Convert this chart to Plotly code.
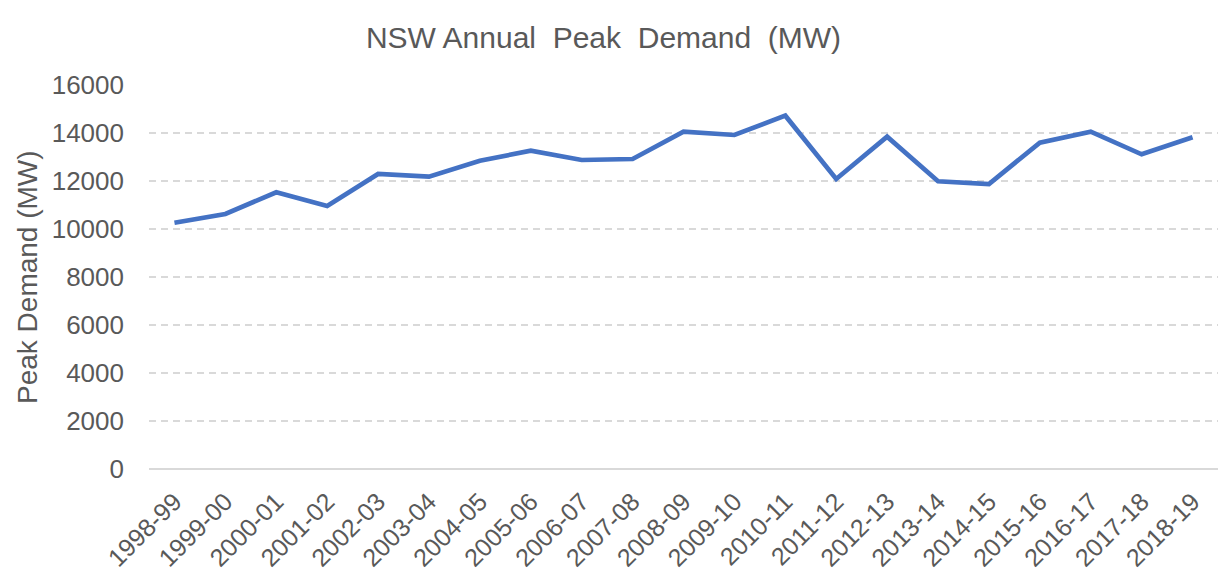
import plotly.graph_objects as go

years = ["1998-99", "1999-00", "2000-01", "2001-02", "2002-03", "2003-04", "2004-05",
         "2005-06", "2006-07", "2007-08", "2008-09", "2009-10", "2010-11", "2011-12",
         "2012-13", "2013-14", "2014-15", "2015-16", "2016-17", "2017-18", "2018-19"]
peak_mw = [10260, 10625, 11530, 10958, 12292, 12180, 12846,
           13263, 12875, 12917, 14055, 13917, 14722, 12083,
           13847, 11990, 11875, 13597, 14055, 13111, 13819]
y_ticks = [0, 2000, 4000, 6000, 8000, 10000, 12000, 14000, 16000]

GREY = "#595959"
FONT = "Liberation Sans, Arial, sans-serif"

fig = go.Figure()
fig.add_trace(go.Scatter(
    x=years, y=peak_mw, mode="lines",
    line=dict(color="#4472C4", width=4.7),
    hoverinfo="x+y", showlegend=False,
))

fig.update_layout(
    width=1218, height=575,
    margin=dict(l=149, r=0, t=85, b=106),
    paper_bgcolor="white", plot_bgcolor="white",
    font=dict(family=FONT, color=GREY),
    title=dict(text="NSW Annual&nbsp; Peak&nbsp; Demand&nbsp; (MW)",
               x=603.5 / 1218, xanchor="center", xref="container",
               y=1 - 37 / 575, yanchor="middle", yref="container",
               font=dict(size=30, color=GREY, family=FONT)),
    xaxis=dict(
        type="category", range=[-0.5, 20.5],
        tickangle=-45, tickfont=dict(size=25, color=GREY),
        showgrid=False, ticks="", showline=False,
        ticklabelstandoff=12, automargin=False,
    ),
    yaxis=dict(
        range=[0, 16000], tickvals=y_ticks, ticktext=[str(v) for v in y_ticks],
        tickfont=dict(size=26, color=GREY),
        showgrid=True, gridcolor="#d9d9d9", gridwidth=1.5, griddash="7px,5px",
        zeroline=True, zerolinecolor="#d9d9d9", zerolinewidth=1.5,
        ticks="", showline=False, ticklabelstandoff=24, automargin=False,
    ),
    annotations=[dict(
        text="Peak Demand (MW)",
        x=(27 - 149) / 1069, y=(469 - 277) / 384, xref="paper", yref="paper",
        xanchor="center", yanchor="middle",
        showarrow=False, textangle=-90,
        font=dict(size=28, color=GREY, family=FONT),
    )],
)

fig.write_html("out.html", config={"displayModeBar": False},
               post_script="document.body.style.margin='0';document.body.style.overflow='hidden';")
